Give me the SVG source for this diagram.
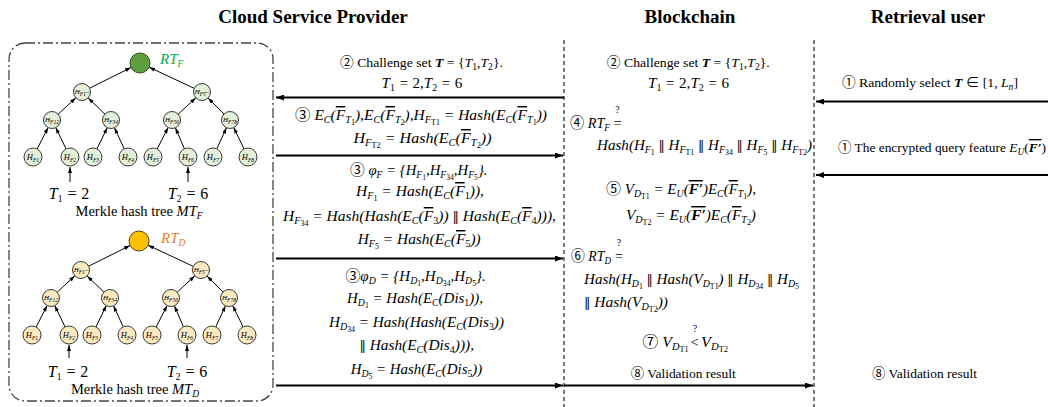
<svg xmlns="http://www.w3.org/2000/svg" width="1048" height="407" viewBox="0 0 1048 407">
<defs>
<style>
.t{font-family:"Liberation Serif","Noto Sans CJK SC",serif;font-size:13.5px;fill:#000}
.m{font-size:14.5px}
.i{font-style:italic}
.n{font-style:normal}
.cj{font-family:"Noto Sans CJK SC",sans-serif;font-style:normal;font-weight:normal}
.dv{font-family:"DejaVu Serif",serif;font-style:normal;font-size:12px}
.bi{font-style:italic;font-weight:bold}
.s{font-size:9.5px;baseline-shift:-3px}
.ss{font-size:7.5px;baseline-shift:-2px;font-style:normal}
.ov{text-decoration:overline}
.h{font-family:"Liberation Serif",serif;font-weight:bold;font-size:19px;text-anchor:middle}
.life{stroke:#333;stroke-width:1.3;stroke-dasharray:4 3;fill:none}
.box{stroke:#444;stroke-width:1.3;stroke-dasharray:10 3 2 3;fill:none}
.arr{stroke:#000;stroke-width:1.8;fill:none;marker-end:url(#ah)}
.te{stroke:#000;stroke-width:1;fill:none;marker-end:url(#sah)}
.gf{fill:#e2efd9;stroke:#3a3a3a;stroke-width:1}
.yf{fill:#fde9c0;stroke:#3a3a3a;stroke-width:1}
.nl{font-family:"Liberation Serif",serif;font-style:italic;font-size:8.5px;text-anchor:middle;fill:#000}
.nm{font-size:7px}
.nls{font-size:5.5px;baseline-shift:-1.5px}
.tm{font-family:"Liberation Serif",serif;font-style:italic;font-size:16px;text-anchor:middle}
.cap{font-family:"Liberation Serif",serif;font-size:14.5px;text-anchor:middle}
.q{font-family:"Liberation Serif",serif;font-size:10px;text-anchor:middle}
.msg{opacity:0.995}
</style>
<marker id="ah" viewBox="0 0 8 6" refX="8" refY="3" markerWidth="8" markerHeight="6" markerUnits="userSpaceOnUse" orient="auto"><path d="M0,0 L8,3 L0,6 z" fill="#000"/></marker>
<marker id="sah" viewBox="0 0 6 4" refX="6" refY="2" markerWidth="6" markerHeight="4" markerUnits="userSpaceOnUse" orient="auto"><path d="M0,0 L6,2 L0,4 z" fill="#000"/></marker>
</defs>
<rect width="1048" height="407" fill="#fff"/>

<!-- headers -->
<text class="h" x="313" y="23">Cloud Service Provider</text>
<text class="h" x="690" y="23">Blockchain</text>
<text class="h" x="928" y="23">Retrieval user</text>

<!-- lifelines and box -->
<g id="lifelines">
<line class="life" x1="564" y1="40" x2="564" y2="407"/>
<line class="life" x1="814" y1="40" x2="814" y2="407"/>
</g>
<rect id="csp-box" class="box" x="9" y="43" width="264" height="358" rx="16"/>

<!-- Merkle tree F -->
<g id="treeF">
<g id="treeF-edges">
<line class="te" x1="37.1" y1="149" x2="48.1" y2="127.6"/>
<line class="te" x1="66.1" y1="148.9" x2="55.7" y2="127.6"/>
<line class="te" x1="96.9" y1="148.9" x2="107.3" y2="127.6"/>
<line class="te" x1="124.2" y1="148.8" x2="114.5" y2="127.7"/>
<line class="te" x1="157.1" y1="149" x2="168.1" y2="127.6"/>
<line class="te" x1="184.4" y1="148.7" x2="175.4" y2="127.8"/>
<line class="te" x1="216.8" y1="148.8" x2="226.5" y2="127.7"/>
<line class="te" x1="244.1" y1="148.9" x2="233.7" y2="127.6"/>
<line class="te" x1="58.2" y1="114.2" x2="75.8" y2="97.8"/>
<line class="te" x1="104.9" y1="114.1" x2="88.1" y2="97.9"/>
<line class="te" x1="178.2" y1="114.2" x2="195.8" y2="97.8"/>
<line class="te" x1="224" y1="114" x2="208" y2="98"/>
<line class="te" x1="89.6" y1="88.2" x2="131.1" y2="67.5"/>
<line class="te" x1="194.3" y1="88.4" x2="149.1" y2="67.2"/>
<line class="te" x1="70" y1="182" x2="70" y2="167"/>
<line class="te" x1="188" y1="182" x2="188" y2="167"/>
</g>
<g id="F-root"><circle cx="140" cy="63" r="10" fill="#5f9e3c" stroke="#2f4f1f" stroke-width="1"/></g>
<text x="160" y="64" font-family="Liberation Serif" font-style="italic" font-size="15" fill="#00b050">RT<tspan class="s" font-size="10">F</tspan></text>
<g id="F-h14"><circle class="gf" cx="82" cy="92" r="8.5"/><text class="nl nm" x="82" y="94">H<tspan class="nls">F1</tspan>–</text></g>
<g id="F-h58"><circle class="gf" cx="202" cy="92" r="8.5"/><text class="nl nm" x="202" y="94">H<tspan class="nls">F5</tspan>–</text></g>
<g id="F-h12"><circle class="gf" cx="52" cy="120" r="8.5"/><text class="nl nm" x="52" y="122">H<tspan class="nls">F12</tspan></text></g>
<g id="F-h34"><circle class="gf" cx="111" cy="120" r="8.5"/><text class="nl nm" x="111" y="122">H<tspan class="nls">F34</tspan></text></g>
<g id="F-h56"><circle class="gf" cx="172" cy="120" r="8.5"/><text class="nl nm" x="172" y="122">H<tspan class="nls">F56</tspan></text></g>
<g id="F-h78"><circle class="gf" cx="230" cy="120" r="8.5"/><text class="nl nm" x="230" y="122">H<tspan class="nls">F78</tspan></text></g>
<g id="F-l1"><circle class="gf" cx="33" cy="157" r="9"/><text class="nl" x="33" y="159.5">H<tspan class="nls">F1</tspan></text></g>
<g id="F-l2"><circle class="gf" cx="70" cy="157" r="9"/><text class="nl" x="70" y="159.5">H<tspan class="nls">F2</tspan></text></g>
<g id="F-l3"><circle class="gf" cx="93" cy="157" r="9"/><text class="nl" x="93" y="159.5">H<tspan class="nls">F3</tspan></text></g>
<g id="F-l4"><circle class="gf" cx="128" cy="157" r="9"/><text class="nl" x="128" y="159.5">H<tspan class="nls">F4</tspan></text></g>
<g id="F-l5"><circle class="gf" cx="153" cy="157" r="9"/><text class="nl" x="153" y="159.5">H<tspan class="nls">F5</tspan></text></g>
<g id="F-l6"><circle class="gf" cx="188" cy="157" r="9"/><text class="nl" x="188" y="159.5">H<tspan class="nls">F6</tspan></text></g>
<g id="F-l7"><circle class="gf" cx="213" cy="157" r="9"/><text class="nl" x="213" y="159.5">H<tspan class="nls">F7</tspan></text></g>
<g id="F-l8"><circle class="gf" cx="248" cy="157" r="9"/><text class="nl" x="248" y="159.5">H<tspan class="nls">F8</tspan></text></g>
<text class="tm" x="69" y="199">T<tspan class="s" font-size="11" font-style="normal">1</tspan> = <tspan font-style="normal">2</tspan></text>
<text class="tm" x="188" y="199">T<tspan class="s" font-size="11" font-style="normal">2</tspan> = <tspan font-style="normal">6</tspan></text>
<text class="cap" x="139" y="216">Merkle hash tree <tspan font-style="italic">MT</tspan><tspan class="s" font-style="italic" font-size="10">F</tspan></text>
</g>

<!-- Merkle tree D -->
<g id="treeD" transform="translate(-1,178)">
<g id="treeD-edges">
<line class="te" x1="37.1" y1="149" x2="48.1" y2="127.6"/>
<line class="te" x1="66.1" y1="148.9" x2="55.7" y2="127.6"/>
<line class="te" x1="96.9" y1="148.9" x2="107.3" y2="127.6"/>
<line class="te" x1="124.2" y1="148.8" x2="114.5" y2="127.7"/>
<line class="te" x1="157.1" y1="149" x2="168.1" y2="127.6"/>
<line class="te" x1="184.4" y1="148.7" x2="175.4" y2="127.8"/>
<line class="te" x1="216.8" y1="148.8" x2="226.5" y2="127.7"/>
<line class="te" x1="244.1" y1="148.9" x2="233.7" y2="127.6"/>
<line class="te" x1="58.2" y1="114.2" x2="75.8" y2="97.8"/>
<line class="te" x1="104.9" y1="114.1" x2="88.1" y2="97.9"/>
<line class="te" x1="178.2" y1="114.2" x2="195.8" y2="97.8"/>
<line class="te" x1="224" y1="114" x2="208" y2="98"/>
<line class="te" x1="89.6" y1="88.2" x2="131.1" y2="67.5"/>
<line class="te" x1="194.3" y1="88.4" x2="149.1" y2="67.2"/>
<line class="te" x1="70" y1="180" x2="70" y2="167"/>
<line class="te" x1="188" y1="180" x2="188" y2="167"/>
</g>
<g id="D-root"><circle cx="140" cy="63" r="10" fill="#ffc000" stroke="#5a4300" stroke-width="1"/></g>
<text x="162" y="65" font-family="Liberation Serif" font-style="italic" font-size="15" fill="#ed7d31">RT<tspan class="s" font-size="10">D</tspan></text>
<g id="D-h14"><circle class="yf" cx="82" cy="92" r="8.5"/><text class="nl nm" x="82" y="94">H<tspan class="nls">F1</tspan>–</text></g>
<g id="D-h58"><circle class="yf" cx="202" cy="92" r="8.5"/><text class="nl nm" x="202" y="94">H<tspan class="nls">F5</tspan>–</text></g>
<g id="D-h12"><circle class="yf" cx="52" cy="120" r="8.5"/><text class="nl nm" x="52" y="122">H<tspan class="nls">F12</tspan></text></g>
<g id="D-h34"><circle class="yf" cx="111" cy="120" r="8.5"/><text class="nl nm" x="111" y="122">H<tspan class="nls">F34</tspan></text></g>
<g id="D-h56"><circle class="yf" cx="172" cy="120" r="8.5"/><text class="nl nm" x="172" y="122">H<tspan class="nls">F56</tspan></text></g>
<g id="D-h78"><circle class="yf" cx="230" cy="120" r="8.5"/><text class="nl nm" x="230" y="122">H<tspan class="nls">F78</tspan></text></g>
<g id="D-l1"><circle class="yf" cx="33" cy="157" r="9"/><text class="nl" x="33" y="159.5">H<tspan class="nls">F1</tspan></text></g>
<g id="D-l2"><circle class="yf" cx="70" cy="157" r="9"/><text class="nl" x="70" y="159.5">H<tspan class="nls">F2</tspan></text></g>
<g id="D-l3"><circle class="yf" cx="93" cy="157" r="9"/><text class="nl" x="93" y="159.5">H<tspan class="nls">F3</tspan></text></g>
<g id="D-l4"><circle class="yf" cx="128" cy="157" r="9"/><text class="nl" x="128" y="159.5">H<tspan class="nls">F4</tspan></text></g>
<g id="D-l5"><circle class="yf" cx="153" cy="157" r="9"/><text class="nl" x="153" y="159.5">H<tspan class="nls">F5</tspan></text></g>
<g id="D-l6"><circle class="yf" cx="188" cy="157" r="9"/><text class="nl" x="188" y="159.5">H<tspan class="nls">F6</tspan></text></g>
<g id="D-l7"><circle class="yf" cx="213" cy="157" r="9"/><text class="nl" x="213" y="159.5">H<tspan class="nls">F7</tspan></text></g>
<g id="D-l8"><circle class="yf" cx="248" cy="157" r="9"/><text class="nl" x="248" y="159.5">H<tspan class="nls">F8</tspan></text></g>
<text class="tm" x="69" y="199">T<tspan class="s" font-size="11" font-style="normal">1</tspan> = <tspan font-style="normal">2</tspan></text>
<text class="tm" x="188" y="199">T<tspan class="s" font-size="11" font-style="normal">2</tspan> = <tspan font-style="normal">6</tspan></text>
<text class="cap" x="136" y="216">Merkle hash tree <tspan font-style="italic">MT</tspan><tspan class="s" font-style="italic" font-size="10">D</tspan></text>
</g>

<!-- connectors -->
<g id="connectors">
<line class="arr" x1="564" y1="97.5" x2="276" y2="97.5"/>
<line class="arr" x1="276" y1="155.5" x2="563" y2="155.5"/>
<line class="arr" x1="276" y1="258.5" x2="563" y2="258.5"/>
<line class="arr" x1="276" y1="385.5" x2="563" y2="385.5"/>
<line class="arr" x1="564" y1="385.5" x2="813" y2="385.5"/>
<line class="arr" x1="1048" y1="101.5" x2="816" y2="101.5"/>
<line class="arr" x1="1048" y1="175" x2="816" y2="175"/>
</g>

<!-- CSP column messages -->
<g id="msg-csp" class="msg">
<text class="t" x="340" y="67" textLength="163" lengthAdjust="spacingAndGlyphs"><tspan class="cj">②</tspan> Challenge set <tspan class="bi">T</tspan> = {<tspan class="i">T</tspan><tspan class="s">1</tspan>,<tspan class="i">T</tspan><tspan class="s">2</tspan>}.</text>
<text class="t m i" x="381.6" y="88" textLength="80.7" lengthAdjust="spacingAndGlyphs">T<tspan class="s n">1</tspan> = <tspan class="n">2</tspan>,T<tspan class="s n">2</tspan> = <tspan class="n">6</tspan></text>
<text class="t m i" x="295" y="120" textLength="252" lengthAdjust="spacingAndGlyphs"><tspan class="cj">③</tspan> E<tspan class="s">C</tspan>(<tspan class="ov">F</tspan><tspan class="s">T<tspan class="ss">1</tspan></tspan>),E<tspan class="s">C</tspan>(<tspan class="ov">F</tspan><tspan class="s">T<tspan class="ss">2</tspan></tspan>),H<tspan class="s">F<tspan class="ss">T1</tspan></tspan>  = Hash(E<tspan class="s">C</tspan>(<tspan class="ov">F</tspan><tspan class="s">T<tspan class="ss">1</tspan></tspan>))</text>
<text class="t m i" x="353.5" y="143" textLength="138" lengthAdjust="spacingAndGlyphs">H<tspan class="s">F<tspan class="ss">T2</tspan></tspan>  = Hash(E<tspan class="s">C</tspan>(<tspan class="ov">F</tspan><tspan class="s">T<tspan class="ss">2</tspan></tspan>))</text>
<text class="t m i" x="350" y="175" textLength="137.5" lengthAdjust="spacingAndGlyphs"><tspan class="cj">③</tspan> φ<tspan class="s">F</tspan> = {H<tspan class="s">F<tspan class="ss">1</tspan></tspan>,H<tspan class="s">F<tspan class="ss">34</tspan></tspan>,H<tspan class="s">F<tspan class="ss">5</tspan></tspan>}.</text>
<text class="t m i" x="356" y="196" textLength="128" lengthAdjust="spacingAndGlyphs">H<tspan class="s">F<tspan class="ss">1</tspan></tspan> = Hash(E<tspan class="s">C</tspan>(<tspan class="ov">F</tspan><tspan class="s n">1</tspan>)),</text>
<text class="t m i" x="283" y="221" textLength="273" lengthAdjust="spacingAndGlyphs">H<tspan class="s">F<tspan class="ss">34</tspan></tspan> = Hash(Hash(E<tspan class="s">C</tspan>(<tspan class="ov">F</tspan><tspan class="s n">3</tspan>)) <tspan class="dv">‖</tspan> Hash(E<tspan class="s">C</tspan>(<tspan class="ov">F</tspan><tspan class="s n">4</tspan>))),</text>
<text class="t m i" x="357.7" y="244" textLength="123" lengthAdjust="spacingAndGlyphs">H<tspan class="s">F<tspan class="ss">5</tspan></tspan> = Hash(E<tspan class="s">C</tspan>(<tspan class="ov">F</tspan><tspan class="s n">5</tspan>))</text>
<text class="t m i" x="345.4" y="281" textLength="140.4" lengthAdjust="spacingAndGlyphs"><tspan class="cj">③</tspan>φ<tspan class="s">D</tspan> = {H<tspan class="s">D<tspan class="ss">1</tspan></tspan>,H<tspan class="s">D<tspan class="ss">34</tspan></tspan>,H<tspan class="s">D<tspan class="ss">5</tspan></tspan>}.</text>
<text class="t m i" x="347" y="303" textLength="136" lengthAdjust="spacingAndGlyphs">H<tspan class="s">D<tspan class="ss">1</tspan></tspan> = Hash(E<tspan class="s">C</tspan>(Dis<tspan class="s n">1</tspan>)),</text>
<text class="t m i" x="329" y="327" textLength="175" lengthAdjust="spacingAndGlyphs">H<tspan class="s">D<tspan class="ss">34</tspan></tspan> = Hash(Hash(E<tspan class="s">C</tspan>(Dis<tspan class="s n">3</tspan>))</text>
<text class="t m i" x="359.5" y="350" textLength="114.5" lengthAdjust="spacingAndGlyphs"><tspan class="dv">‖</tspan> Hash(E<tspan class="s">C</tspan>(Dis<tspan class="s n">4</tspan>))),</text>
<text class="t m i" x="350.7" y="374" textLength="131.6" lengthAdjust="spacingAndGlyphs">H<tspan class="s">D<tspan class="ss">5</tspan></tspan> = Hash(E<tspan class="s">C</tspan>(Dis<tspan class="s n">5</tspan>))</text>
</g>

<!-- Blockchain column -->
<g id="msg-chain" class="msg">
<text class="t" x="606.8" y="67" textLength="163" lengthAdjust="spacingAndGlyphs"><tspan class="cj">②</tspan> Challenge set <tspan class="bi">T</tspan> = {<tspan class="i">T</tspan><tspan class="s">1</tspan>,<tspan class="i">T</tspan><tspan class="s">2</tspan>}.</text>
<text class="t m i" x="648" y="88" textLength="81" lengthAdjust="spacingAndGlyphs">T<tspan class="s n">1</tspan> = <tspan class="n">2</tspan>,T<tspan class="s n">2</tspan> = <tspan class="n">6</tspan></text>
<text class="t m i" x="570" y="128" textLength="40" lengthAdjust="spacingAndGlyphs"><tspan class="cj">④</tspan> RT<tspan class="s">F</tspan></text>
<text class="t m" x="617.5" y="128" text-anchor="middle">=</text>
<text class="q" x="617.5" y="113">?</text>
<text class="t m i" x="597" y="150" textLength="215" lengthAdjust="spacingAndGlyphs">Hash(H<tspan class="s">F<tspan class="ss">1</tspan></tspan> <tspan class="dv">‖</tspan> H<tspan class="s">F<tspan class="ss">T1</tspan></tspan> <tspan class="dv">‖</tspan> H<tspan class="s">F<tspan class="ss">34</tspan></tspan> <tspan class="dv">‖</tspan> H<tspan class="s">F<tspan class="ss">5</tspan></tspan> <tspan class="dv">‖</tspan> H<tspan class="s">F<tspan class="ss">T2</tspan></tspan>)</text>
<text class="t m i" x="606" y="194" textLength="150" lengthAdjust="spacingAndGlyphs"><tspan class="cj">⑤</tspan> V<tspan class="s">D<tspan class="ss">T1</tspan></tspan> = E<tspan class="s">U</tspan>(<tspan class="bi ov">F′</tspan>)E<tspan class="s">C</tspan>(<tspan class="ov">F</tspan><tspan class="s">T<tspan class="ss">1</tspan></tspan>),</text>
<text class="t m i" x="626" y="220" textLength="130" lengthAdjust="spacingAndGlyphs">V<tspan class="s">D<tspan class="ss">T2</tspan></tspan> = E<tspan class="s">U</tspan>(<tspan class="bi ov">F′</tspan>)E<tspan class="s">C</tspan>(<tspan class="ov">F</tspan><tspan class="s">T<tspan class="ss">2</tspan></tspan>)</text>
<text class="t m i" x="571" y="261" textLength="40" lengthAdjust="spacingAndGlyphs"><tspan class="cj">⑥</tspan> RT<tspan class="s">D</tspan></text>
<text class="t m" x="619" y="261" text-anchor="middle">=</text>
<text class="q" x="619" y="246">?</text>
<text class="t m i" x="584" y="284" textLength="215" lengthAdjust="spacingAndGlyphs">Hash(H<tspan class="s">D<tspan class="ss">1</tspan></tspan> <tspan class="dv">‖</tspan> Hash(V<tspan class="s">D<tspan class="ss">T1</tspan></tspan>) <tspan class="dv">‖</tspan> H<tspan class="s">D<tspan class="ss">34</tspan></tspan> <tspan class="dv">‖</tspan> H<tspan class="s">D<tspan class="ss">5</tspan></tspan></text>
<text class="t m i" x="584" y="307" textLength="84" lengthAdjust="spacingAndGlyphs"><tspan class="dv">‖</tspan> Hash(V<tspan class="s">D<tspan class="ss">T2</tspan></tspan>))</text>
<text class="t m i" x="642.6" y="347" textLength="46" lengthAdjust="spacingAndGlyphs"><tspan class="cj">⑦</tspan> V<tspan class="s">D<tspan class="ss">T1</tspan></tspan></text>
<text class="t m" x="694.6" y="347" text-anchor="middle">&lt;</text>
<text class="q" x="695" y="332">?</text>
<text class="t m i" x="701" y="347" textLength="27" lengthAdjust="spacingAndGlyphs">V<tspan class="s">D<tspan class="ss">T2</tspan></tspan></text>
<text class="t" x="630.7" y="378" textLength="105" lengthAdjust="spacingAndGlyphs"><tspan class="cj">⑧</tspan> Validation result</text>
</g>

<!-- Retrieval user column -->
<g id="msg-user" class="msg">
<text class="t" x="842" y="87" textLength="176" lengthAdjust="spacingAndGlyphs"><tspan class="cj">①</tspan> Randomly select <tspan class="bi">T</tspan> ∈ [1, <tspan class="i">L</tspan><tspan class="s i">n</tspan>]</text>
<text class="t" x="838" y="152" textLength="208" lengthAdjust="spacingAndGlyphs"><tspan class="cj">①</tspan> The encrypted query feature <tspan class="i">E</tspan><tspan class="s i">U</tspan>(<tspan class="bi ov">F′</tspan>)</text>
<text class="t" x="872" y="378" textLength="105" lengthAdjust="spacingAndGlyphs"><tspan class="cj">⑧</tspan> Validation result</text>
</g>
</svg>
